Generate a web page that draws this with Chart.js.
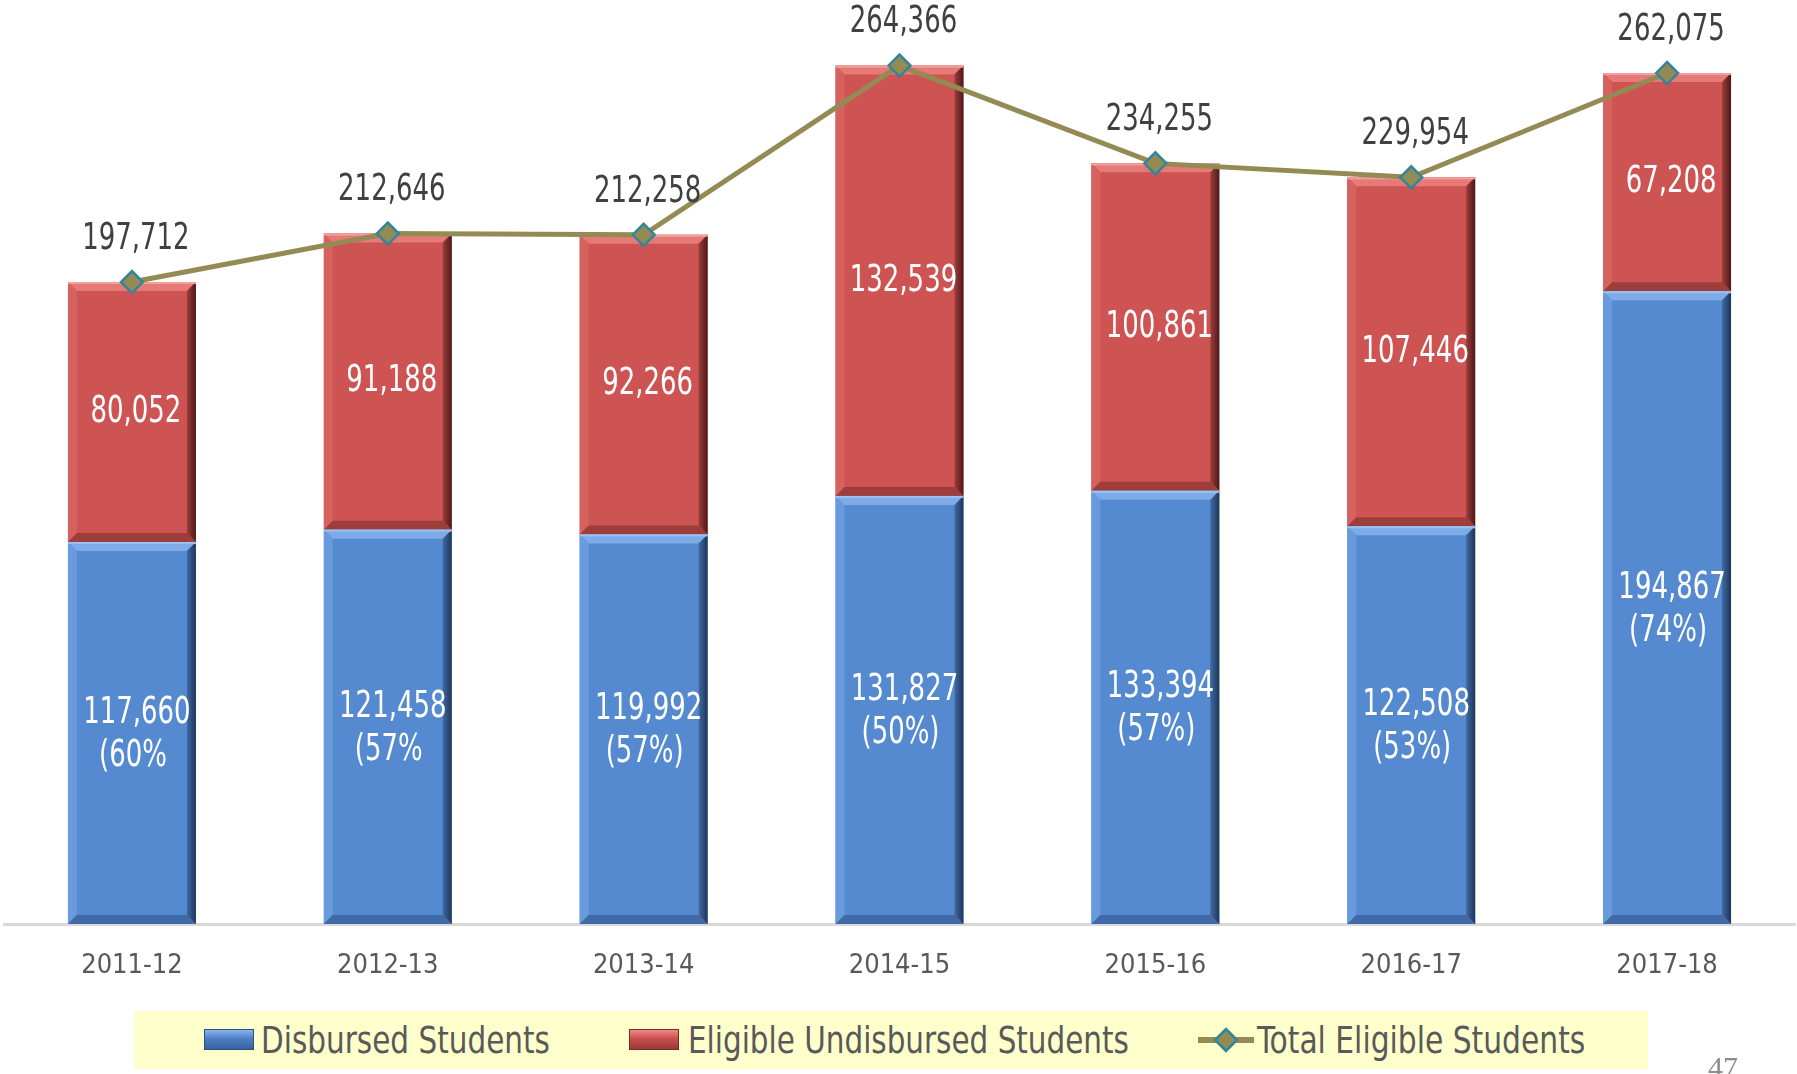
<!DOCTYPE html>
<html>
<head>
<meta charset="utf-8">
<script src="https://cdn.jsdelivr.net/npm/chart.js@4.4.0/dist/chart.umd.min.js"></script>
<style>
  html, body { margin: 0; padding: 0; background: #ffffff; }
  #wrap { position: relative; width: 1797px; height: 1074px; overflow: hidden; }
  #legend {
    position: absolute; left: 134px; top: 1011px; width: 1514px; height: 58px;
    background: #FFFFCC; font-family: "DejaVu Sans Condensed", sans-serif;
    font-size: 38px; color: #595959;
  }
  .sw { position: absolute; top: 18px; width: 50px; height: 21px; box-sizing: border-box; }
  .txt { position: absolute; top: 0; height: 58px; line-height: 58px; white-space: nowrap; transform-origin: left center; }
  #pageNo { position: absolute; left: 1708px; top: 1050px; font-family: "Liberation Serif", serif; font-size: 30px; color: #8c8c8c; }
</style>
</head>
<body>
<div id="wrap">
  <canvas id="chart" width="1797" height="1074"></canvas>
  <div id="legend">
    <div class="sw" style="left:70px;background:linear-gradient(#8ab4ee,#4f7fc4 45%,#3a62a0);border:1px solid #2f4f80"></div>
    <div class="txt" id="lt0" style="left:127px">Disbursed Students</div>
    <div class="sw" style="left:495px;background:linear-gradient(#f08a88,#c9504d 45%,#9c3936);border:1px solid #7a2a28"></div>
    <div class="txt" id="lt1" style="left:554px">Eligible Undisbursed Students</div>
    <svg style="position:absolute;left:1064px;top:16px" width="56" height="26"><line x1="0" y1="13" x2="56" y2="13" stroke="#948A54" stroke-width="6"/><polygon points="28,2 39,13 28,24 17,13" fill="#948A54" stroke="#31859C" stroke-width="2.5"/></svg>
    <div class="txt" id="lt2" style="left:1123px">Total Eligible Students</div>
  </div>
  <div id="pageNo">47</div>
</div>
<script>
const years = ['2011-12', '2012-13', '2013-14', '2014-15', '2015-16', '2016-17', '2017-18'];
const disbursed = [117660, 121458, 119992, 131827, 133394, 122508, 194867];
const undisbursed = [80052, 91188, 92266, 132539, 100861, 107446, 67208];
const totalEligible = [197712, 212646, 212258, 264366, 234255, 229954, 262075];
const disbursedPct = ['(60%', '(57%', '(57%)', '(50%)', '(57%)', '(53%)', '(74%)'];

const labelFont = '"DejaVu Sans Condensed", sans-serif';

// squeeze legend texts to the narrow look of the original
[['lt0', 289], ['lt1', 441], ['lt2', 328]].forEach(([id, w]) => {
  const el = document.getElementById(id);
  el.style.transform = 'scaleX(' + (w / el.offsetWidth) + ')';
});

function fmt(v) {
  return v.toLocaleString('en-US');
}

// narrow text: draw condensed font squeezed horizontally
function narrowText(ctx, text, x, y, sx) {
  ctx.save();
  ctx.translate(x, y);
  ctx.scale(sx, 1);
  ctx.fillText(text, 0, 0);
  ctx.restore();
}

// bevel look on each bar, drawn over the library's bar elements
const bevelPlugin = {
  id: 'bevel',
  afterDatasetDraw(chart, args) {
    const ds = chart.data.datasets[args.index];
    if (ds.type === 'line') return;
    const ctx = chart.ctx;
    const b = 9;
    args.meta.data.forEach(bar => {
      const left = bar.x - bar.width / 2;
      const right = bar.x + bar.width / 2;
      const top = Math.min(bar.y, bar.base);
      const bottom = Math.max(bar.y, bar.base);
      ctx.save();
      // top highlight
      ctx.fillStyle = ds.bevelLight;
      ctx.beginPath();
      ctx.moveTo(left, top); ctx.lineTo(right, top);
      ctx.lineTo(right - b, top + b); ctx.lineTo(left + b, top + b);
      ctx.closePath(); ctx.fill();
      // left side
      ctx.fillStyle = ds.bevelSide;
      ctx.beginPath();
      ctx.moveTo(left, top); ctx.lineTo(left + b, top + b);
      ctx.lineTo(left + b, bottom - b); ctx.lineTo(left, bottom);
      ctx.closePath(); ctx.fill();
      // right side
      const g = ctx.createLinearGradient(right - b, 0, right, 0);
      g.addColorStop(0, ds.bevelDark);
      g.addColorStop(1, ds.bevelDarkest);
      ctx.fillStyle = g;
      ctx.beginPath();
      ctx.moveTo(right, top); ctx.lineTo(right, bottom);
      ctx.lineTo(right - b, bottom - b); ctx.lineTo(right - b, top + b);
      ctx.closePath(); ctx.fill();
      // bottom
      ctx.fillStyle = ds.bevelDark;
      ctx.beginPath();
      ctx.moveTo(left, bottom); ctx.lineTo(right, bottom);
      ctx.lineTo(right - b, bottom - b); ctx.lineTo(left + b, bottom - b);
      ctx.closePath(); ctx.fill();
      // thin light top line
      ctx.fillStyle = ds.edgeLine;
      ctx.fillRect(left, top, bar.width, 2);
      ctx.restore();
    });
  }
};

// value labels
const labelPlugin = {
  id: 'valueLabels',
  afterDatasetsDraw(chart) {
    const ctx = chart.ctx;
    const sx = 0.76;
    ctx.save();
    ctx.textAlign = 'center';
    ctx.textBaseline = 'middle';
    ctx.font = '38px ' + labelFont;
    // blue bars: value + percentage
    chart.getDatasetMeta(0).data.forEach((bar, i) => {
      const cy = (bar.y + bar.base) / 2;
      ctx.fillStyle = '#ffffff';
      narrowText(ctx, fmt(disbursed[i]), bar.x + 5, cy - 20, sx);
      narrowText(ctx, disbursedPct[i], bar.x + 1, cy + 23, sx);
    });
    // red bars
    chart.getDatasetMeta(1).data.forEach((bar, i) => {
      const cy = (bar.y + bar.base) / 2;
      ctx.fillStyle = '#ffffff';
      narrowText(ctx, fmt(undisbursed[i]), bar.x + 4, cy, sx);
    });
    // totals above points
    chart.getDatasetMeta(2).data.forEach((pt, i) => {
      ctx.fillStyle = '#404040';
      narrowText(ctx, fmt(totalEligible[i]), pt.x + 4, pt.y - 43, sx);
    });
    ctx.restore();
  }
};

const ctx = document.getElementById('chart').getContext('2d');
new Chart(ctx, {
  data: {
    labels: years,
    datasets: [
      {
        type: 'bar',
        label: 'Disbursed Students',
        data: disbursed,
        backgroundColor: '#558AD0',
        bevelLight: '#7fabe8',
        bevelSide: '#6a9ade',
        bevelDark: '#3f6aa6',
        bevelDarkest: '#1f3556',
        edgeLine: '#9cc0f0',
        stack: 'bars',
        order: 1,
        barPercentage: 0.5,
        categoryPercentage: 1
      },
      {
        type: 'bar',
        label: 'Eligible Undisbursed Students',
        data: undisbursed,
        backgroundColor: '#CD5452',
        bevelLight: '#e57a77',
        bevelSide: '#d5625f',
        bevelDark: '#9e3e3c',
        bevelDarkest: '#4a1a19',
        edgeLine: '#f3a19e',
        stack: 'bars',
        order: 1,
        barPercentage: 0.5,
        categoryPercentage: 1
      },
      {
        type: 'line',
        label: 'Total Eligible Students',
        data: totalEligible,
        borderColor: '#948A54',
        borderWidth: 5,
        backgroundColor: '#948A54',
        pointStyle: 'rectRot',
        pointRadius: 11,
        pointBackgroundColor: '#948A54',
        pointBorderColor: '#31859C',
        pointBorderWidth: 2.5,
        tension: 0,
        stack: 'total',
        order: 0
      }
    ]
  },
  options: {
    responsive: false,
    animation: false,
    layout: { autoPadding: false, padding: { left: 4, right: 2, top: 0, bottom: 0 } },
    plugins: {
      legend: { display: false },
      tooltip: { enabled: false }
    },
    scales: {
      x: {
        stacked: true,
        grid: { display: false, drawTicks: false },
        border: { display: true, color: '#D9D9D9', width: 3 },
        ticks: {
          color: '#595959',
          padding: 26,
          font: { family: labelFont, size: 27 }
        },
        afterFit(scale) { scale.height = 150; }
      },
      y: {
        display: false,
        stacked: true,
        min: 0,
        max: 284570
      }
    }
  },
  plugins: [bevelPlugin, labelPlugin]
});
</script>
</body>
</html>
